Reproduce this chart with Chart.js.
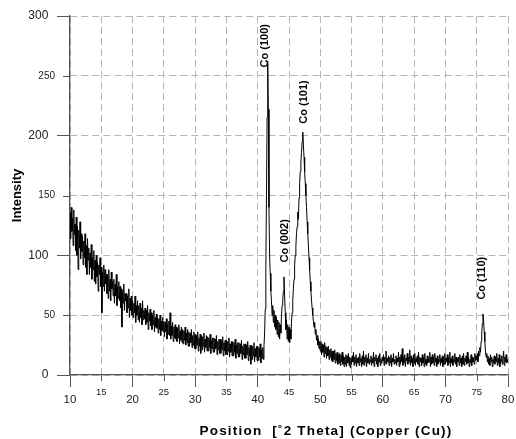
<!DOCTYPE html>
<html>
<head>
<meta charset="utf-8">
<script src="https://cdn.jsdelivr.net/npm/chart.js@4.4.1/dist/chart.umd.min.js"></script>
<style>
  html, body { margin: 0; padding: 0; background: #fff; }
  #wrap { width: 516px; height: 439px; }
</style>
</head>
<body>
<div id="wrap"><canvas id="xrdChart" width="516" height="439"></canvas></div>
<script>
// scan settings (degrees 2 theta)
const startAngle = 10;
const angleStep = 0.1;

// intensity, one row per degree (x.0 ... x.9)
const intensity = [
    136, 114, 140, 120, 131, 108, 138, 117, 126, 104,   // 10
    132, 100, 124, 88, 121, 106, 128, 97, 118, 103,     // 11
    116, 92, 112, 98, 118, 90, 108, 84, 114, 96,        // 12
    106, 84, 102, 90, 109, 80, 98, 88, 104, 78,         // 13
    96, 76, 100, 82, 94, 70, 92, 84, 98, 74,            // 14
    90, 52, 86, 74, 92, 70, 88, 76, 84, 68,             // 15
    84, 64, 88, 70, 80, 62, 86, 72, 78, 66,             // 16
    80, 60, 76, 66, 84, 58, 74, 64, 78, 62,             // 17
    74, 56, 72, 40, 70, 60, 76, 54, 68, 62,             // 18
    68, 52, 66, 56, 72, 48, 64, 54, 66, 50,             // 19
    62, 48, 60, 52, 66, 44, 58, 50, 62, 46,             // 20
    58, 44, 60, 48, 56, 42, 62, 46, 54, 47,             // 21
    56, 42, 54, 44, 58, 38, 52, 45, 55, 41,             // 22
    52, 38, 50, 42, 54, 36, 48, 40, 51, 39,             // 23
    48, 35, 47, 38, 50, 33, 45, 37, 48, 36,             // 24
    45, 32, 44, 36, 47, 30, 42, 34, 45, 33,             // 25
    52, 30, 41, 33, 44, 28, 40, 31, 42, 30,             // 26
    40, 28, 39, 31, 42, 26, 37, 29, 40, 27,             // 27
    38, 26, 37, 29, 40, 25, 35, 27, 38, 24,             // 28
    36, 24, 35, 27, 38, 23, 33, 25, 36, 22,             // 29
    34, 22, 33, 25, 36, 20, 31, 24, 34, 18,             // 30
    33, 21, 32, 24, 35, 19, 30, 23, 33, 20,             // 31
    32, 20, 31, 23, 34, 18, 29, 22, 31, 19,             // 32
    31, 19, 30, 22, 33, 17, 28, 21, 30, 18,             // 33
    30, 18, 29, 21, 32, 16, 27, 20, 29, 17,             // 34
    29, 17, 28, 20, 31, 15, 26, 19, 28, 16,             // 35
    28, 16, 27, 19, 30, 14, 25, 18, 27, 15,             // 36
    27, 15, 26, 18, 29, 13, 24, 17, 26, 14,             // 37
    26, 14, 25, 17, 28, 12, 23, 16, 25, 9,              // 38
    25, 13, 24, 16, 27, 11, 22, 15, 24, 12,             // 39
    24, 12, 23, 15, 26, 10, 21, 14, 23, 13,             // 40
    24, 35, 55, 90, 150, 215, 262, 222, 140, 100,       // 41  Co (100)
    85, 70, 62, 50, 58, 44, 54, 40, 50, 38,             // 42
    48, 34, 46, 32, 44, 30, 42, 35, 50, 58,             // 43
    62, 70, 82, 66, 52, 38, 46, 30, 42, 28,             // 44  Co (002)
    40, 27, 38, 30, 45, 52, 62, 72, 80, 92,             // 45
    100, 108, 118, 124, 136, 130, 148, 160, 170, 178,   // 46
    186, 195, 203, 192, 182, 170, 160, 150, 140, 128,   // 47  Co (101)
    118, 108, 98, 88, 78, 70, 62, 56, 50, 45,           // 48
    40, 44, 34, 38, 29, 33, 25, 30, 22, 28,             // 49
    20, 28, 17, 26, 19, 25, 15, 27, 18, 24,             // 50
    14, 23, 16, 24, 13, 21, 15, 22, 12, 20,             // 51
    11, 20, 13, 21, 10, 18, 12, 19, 9, 17,              // 52
    10, 18, 8, 17, 11, 19, 9, 16, 7, 15,                // 53
    9, 17, 7, 16, 10, 18, 8, 15, 6, 14,                 // 54
    9, 16, 11, 19, 8, 15, 10, 17, 7, 14,                // 55
    10, 15, 8, 18, 11, 14, 7, 16, 9, 20,                // 56
    8, 15, 11, 17, 7, 14, 10, 18, 9, 13,                // 57
    11, 16, 8, 14, 10, 19, 7, 15, 12, 17,               // 58
    9, 14, 7, 16, 11, 18, 8, 13, 10, 15,                // 59
    12, 17, 8, 15, 10, 20, 9, 14, 11, 16,               // 60
    8, 15, 10, 17, 7, 14, 11, 18, 9, 13,                // 61
    10, 16, 8, 14, 11, 19, 7, 15, 9, 17,                // 62
    11, 22, 8, 15, 10, 17, 7, 14, 12, 18,               // 63
    9, 15, 11, 21, 8, 16, 10, 14, 7, 17,                // 64
    10, 18, 8, 14, 11, 16, 9, 19, 7, 15,                // 65
    11, 14, 8, 17, 10, 15, 7, 18, 9, 13,                // 66
    8, 16, 10, 14, 11, 19, 7, 15, 9, 17,                // 67
    10, 15, 8, 18, 11, 14, 7, 16, 9, 13,                // 68
    11, 17, 8, 14, 10, 16, 7, 15, 9, 18,                // 69
    9, 14, 11, 17, 8, 15, 10, 19, 7, 14,                // 70
    10, 16, 8, 13, 11, 18, 9, 15, 7, 14,                // 71
    11, 15, 8, 17, 10, 14, 7, 16, 9, 18,                // 72
    8, 14, 11, 16, 9, 19, 10, 15, 7, 13,                // 73
    10, 17, 8, 15, 11, 14, 9, 18, 12, 16,               // 74
    13, 18, 11, 20, 16, 23, 19, 28, 35, 43,             // 75
    51, 45, 36, 28, 20, 15, 18, 11, 16, 9,              // 76  Co (110)
    14, 8, 17, 11, 15, 7, 13, 10, 16, 9,                // 77
    15, 11, 18, 8, 14, 10, 17, 7, 13, 11,               // 78
    16, 9, 14, 20, 8, 15, 11, 17, 10, 13,               // 79
    11                                                  // 80.0
];

// peak labels: text, angle and intensity where the text starts
const peakNames = ['Co (100)', 'Co (002)', 'Co (101)', 'Co (110)'];
const peakLabelAngles = [41.2, 44.35, 47.4, 75.85];
const peakLabelBases = [257, 94, 210, 63];

const xTitle = 'Position  [\u02DA2 Theta] (Copper (Cu))';
const yTitle = 'Intensity';

const points = intensity.map((v, i) => ({ x: startAngle + i * angleStep, y: v }));

const axisColor = '#555';
const gridColor = '#b5b5b5';
const fontFamily = '"Liberation Sans", Arial, sans-serif';

// short tick marks for the in-between ticks (15, 25 ... and 50, 150, 250)
const minorTicks = {
    id: 'minorTicks',
    afterDraw(chart) {
        const { ctx, scales: { x, y }, chartArea } = chart;
        ctx.save();
        ctx.strokeStyle = axisColor;
        ctx.lineWidth = 1;
        ctx.beginPath();
        x.ticks.forEach(t => {
            if (t.value % 10 !== 0) {
                const px = Math.round(x.getPixelForValue(t.value)) + 0.5;
                ctx.moveTo(px, chartArea.bottom);
                ctx.lineTo(px, chartArea.bottom + 6);
            }
        });
        y.ticks.forEach(t => {
            if (t.value % 100 !== 0) {
                const py = Math.round(y.getPixelForValue(t.value)) + 0.5;
                ctx.moveTo(chartArea.left - 7, py);
                ctx.lineTo(chartArea.left, py);
            }
        });
        ctx.stroke();
        ctx.restore();
    }
};

const peakLabels = {
    id: 'peakLabels',
    afterDatasetsDraw(chart) {
        const { ctx, scales: { x, y } } = chart;
        ctx.save();
        ctx.fillStyle = '#000';
        ctx.font = 'bold 11px ' + fontFamily;
        ctx.textAlign = 'left';
        ctx.textBaseline = 'middle';
        peakNames.forEach((name, i) => {
            ctx.save();
            ctx.translate(x.getPixelForValue(peakLabelAngles[i]), y.getPixelForValue(peakLabelBases[i]));
            ctx.rotate(-Math.PI / 2);
            ctx.fillText(name, 0, 0);
            ctx.restore();
        });
        ctx.restore();
    }
};

const xAxisTitle = {
    id: 'xAxisTitle',
    afterDraw(chart) {
        const { ctx, chartArea } = chart;
        ctx.save();
        ctx.fillStyle = '#000';
        ctx.font = 'bold 13.5px ' + fontFamily;
        if ('letterSpacing' in ctx) ctx.letterSpacing = '1.2px';
        ctx.textAlign = 'center';
        ctx.textBaseline = 'middle';
        ctx.fillText(xTitle, chartArea.left + 256, 431);
        ctx.restore();
    }
};

const ctx = document.getElementById('xrdChart').getContext('2d');
new Chart(ctx, {
    type: 'line',
    data: {
        datasets: [{
            data: points,
            borderColor: '#000',
            borderWidth: 1,
            pointRadius: 0,
            tension: 0,
            fill: false
        }]
    },
    options: {
        responsive: false,
        animation: false,
        devicePixelRatio: 1,
        layout: { padding: { top: 16, right: 8, left: 0, bottom: 0 } },
        plugins: {
            legend: { display: false },
            tooltip: { enabled: false }
        },
        scales: {
            x: {
                type: 'linear',
                min: 10,
                max: 80,
                afterFit: (scale) => { scale.height = 64; },
                border: { color: axisColor, width: 1.3, dash: [7, 4] },
                grid: {
                    color: gridColor,
                    lineWidth: 1,
                    tickLength: 12,
                    tickColor: (c) => (c.tick && c.tick.value % 10 === 0) ? axisColor : 'rgba(0,0,0,0)'
                },
                ticks: {
                    stepSize: 5,
                    autoSkip: false,
                    maxRotation: 0,
                    padding: 0,
                    color: '#222',
                    font: (c) => (c.tick && c.tick.value % 10 === 0)
                        ? { family: fontFamily, size: 11.5, lineHeight: 0.72 }
                        : { family: fontFamily, size: 9.5 },
                    callback: (value) => value % 10 === 0 ? ['', String(value)] : String(value)
                }
            },
            y: {
                min: 0,
                max: 300,
                afterFit: (scale) => { scale.width = 70; },
                border: { color: axisColor, width: 1.3, dash: [7, 4] },
                grid: {
                    color: gridColor,
                    lineWidth: 1,
                    tickLength: 13,
                    tickColor: (c) => (c.tick && c.tick.value % 100 === 0) ? axisColor : 'rgba(0,0,0,0)'
                },
                ticks: {
                    stepSize: 50,
                    padding: 2,
                    color: '#222',
                    font: (c) => (c.tick && c.tick.value % 100 === 0)
                        ? { family: fontFamily, size: 12 }
                        : { family: fontFamily, size: 10 },
                    callback: (value) => value % 100 === 0 ? value + '  ' : String(value)
                },
                title: {
                    display: true,
                    text: yTitle,
                    color: '#000',
                    font: { family: fontFamily, size: 13, weight: 'bold' },
                    padding: { top: 10, bottom: 0 }
                }
            }
        }
    },
    plugins: [minorTicks, peakLabels, xAxisTitle]
});
</script>
</body>
</html>
